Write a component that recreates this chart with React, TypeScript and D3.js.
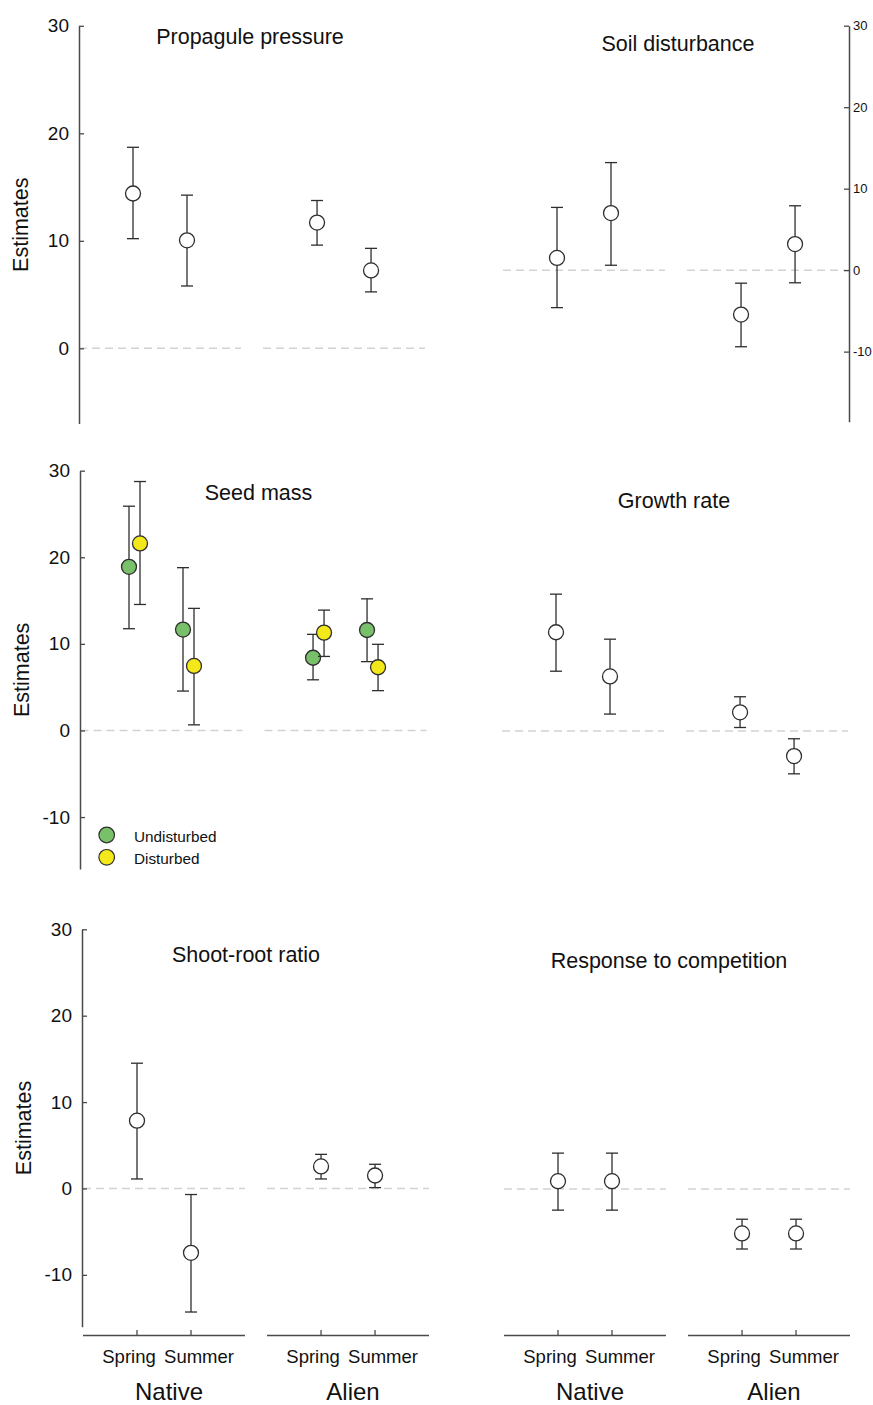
import React, { useRef, useEffect } from 'react';
import * as d3 from 'd3';

const groups = ['Native', 'Alien'];
const seasons = ['Spring', 'Summer'];

// [estimate, lower, upper] in order Native-Spring, Native-Summer, Alien-Spring, Alien-Summer
const propagulePressure = [[14.4, 10.2, 18.7], [10.05, 5.8, 14.25], [11.7, 9.6, 13.75], [7.25, 5.25, 9.3]];
const soilDisturbance = [[1.5, -4.6, 7.7], [7.0, 0.6, 13.2], [-5.45, -9.4, -1.6], [3.2, -1.55, 7.9]];
const seedMassUndisturbed = [[18.9, 11.75, 25.9], [11.65, 4.55, 18.8], [8.4, 5.85, 11.1], [11.6, 7.95, 15.2]];
const seedMassDisturbed = [[21.6, 14.55, 28.75], [7.45, 0.65, 14.1], [11.3, 8.55, 13.9], [7.3, 4.6, 9.95]];
const growthRate = [[11.4, 6.9, 15.8], [6.3, 1.95, 10.6], [2.15, 0.4, 3.95], [-2.9, -4.95, -0.9]];
const shootRootRatio = [[7.85, 1.1, 14.5], [-7.45, -14.3, -0.7], [2.55, 1.1, 3.95], [1.5, 0.1, 2.8]];
const responseToCompetition = [[0.9, -2.45, 4.15], [0.9, -2.45, 4.15], [-5.15, -6.95, -3.5], [-5.15, -6.95, -3.5]];

const legendLabels = ['Undisturbed', 'Disturbed'];
const seriesColors = ['#78c06a', '#f2e81a'];
const ticksFull = [-10, 0, 10, 20, 30];
const ticksTop = [0, 10, 20, 30];

const FONT = "'Liberation Sans', Arial, sans-serif";

const panels = [
  { title: 'Propagule pressure', series: [propagulePressure], yDomain: [-7, 30], yRange: [423.6, 25.8],
    x0: 79, axis: 'left', axisX: 79, ticks: ticksTop, titleX: 250, titleY: 44, xAxis: false },
  { title: 'Soil disturbance', series: [soilDisturbance], yDomain: [-18.6, 30], yRange: [421.7, 25.7],
    x0: 503, axis: 'right', axisX: 849, ticks: ticksFull, titleX: 678, titleY: 51, xAxis: false },
  { title: 'Seed mass', series: [seedMassUndisturbed, seedMassDisturbed], yDomain: [-16, 30], yRange: [869, 470.7],
    x0: 80.5, axis: 'left', axisX: 80, ticks: ticksFull, titleX: 258.5, titleY: 500, xAxis: false, legend: true },
  { title: 'Growth rate', series: [growthRate], yDomain: [-16, 30], yRange: [869.5, 471.2],
    x0: 502, axis: 'none', axisX: 0, ticks: ticksFull, titleX: 674, titleY: 508, xAxis: false },
  { title: 'Shoot-root ratio', series: [shootRootRatio], yDomain: [-16, 30], yRange: [1326.7, 929.3],
    x0: 83, axis: 'left', axisX: 82, ticks: ticksFull, titleX: 246, titleY: 962, xAxis: true },
  { title: 'Response to competition', series: [responseToCompetition], yDomain: [-16, 30], yRange: [1327.2, 929.8],
    x0: 504, axis: 'none', axisX: 0, ticks: ticksFull, titleX: 669, titleY: 968, xAxis: true },
];

const App = () => {
  const ref = useRef<SVGSVGElement>(null);

  useEffect(() => {
    const svg = d3.select(ref.current);
    svg.selectAll('*').remove();

    svg.append('rect').attr('width', 873).attr('height', 1405).attr('fill', '#fff');

    panels.forEach((p: any) => {
      const g = svg.append('g');
      const y = d3.scaleLinear().domain(p.yDomain).range(p.yRange);
      const band = d3.scaleBand().domain(groups).range([p.x0, p.x0 + 346]).paddingInner(0.12);
      const season = d3.scalePoint().domain(seasons).range([54, 108]);
      const xAt = (i: number) => (band(groups[Math.floor(i / 2)]) as number) + (season(seasons[i % 2]) as number);

      // zero reference lines
      groups.forEach(grp => {
        g.append('line')
          .attr('x1', band(grp) as number).attr('x2', (band(grp) as number) + band.bandwidth())
          .attr('y1', y(0)).attr('y2', y(0))
          .attr('stroke', '#d2d2d2').attr('stroke-width', 1.5).attr('stroke-dasharray', '8,5');
      });

      // y axis
      if (p.axis !== 'none') {
        const right = p.axis === 'right';
        const axis = (right ? d3.axisRight(y) : d3.axisLeft(y))
          .tickValues(p.ticks).tickFormat((d: any) => String(d))
          .tickSizeInner(-5).tickSizeOuter(0).tickPadding(right ? 4 : 10);
        const ag = g.append('g').attr('transform', `translate(${p.axisX},0)`).call(axis as any);
        ag.select('.domain').attr('stroke', '#4a4a4a').attr('stroke-width', 1.5);
        ag.selectAll('.tick line').attr('stroke', '#4a4a4a').attr('stroke-width', 1.3);
        ag.selectAll('.tick text')
          .attr('font-family', FONT).attr('font-size', right ? 13 : 19).attr('fill', '#111');
        ag.attr('font-family', null).attr('font-size', null);

        if (!right) {
          const mid = (p.yRange[0] + p.yRange[1]) / 2;
          g.append('text')
            .attr('transform', `translate(${p.axisX - 51},${mid}) rotate(-90)`)
            .attr('text-anchor', 'middle')
            .attr('font-family', FONT).attr('font-size', 21.5).attr('fill', '#111')
            .text('Estimates');
        }
      }

      // title
      g.append('text')
        .attr('x', p.titleX).attr('y', p.titleY)
        .attr('text-anchor', 'middle')
        .attr('font-family', FONT).attr('font-size', 21.5).attr('fill', '#111')
        .text(p.title);

      // error bars and points
      const offsets = p.series.length > 1 ? [-5.5, 5.5] : [0];
      const pts: any[] = [];
      p.series.forEach((s: number[][], si: number) => {
        s.forEach((d, i) => pts.push({ d, i, si }));
      });
      pts.sort((a, b) => a.i - b.i || a.si - b.si);
      pts.forEach(({ d, i, si }) => {
        const cx = xAt(i) + offsets[si];
        const [est, lo, hi] = d;
        g.append('line').attr('x1', cx).attr('x2', cx).attr('y1', y(lo)).attr('y2', y(hi))
          .attr('stroke', '#2e2e2e').attr('stroke-width', 1.3);
        [lo, hi].forEach(v => {
          g.append('line').attr('x1', cx - 6).attr('x2', cx + 6).attr('y1', y(v)).attr('y2', y(v))
            .attr('stroke', '#2e2e2e').attr('stroke-width', 1.3);
        });
        g.append('circle').attr('cx', cx).attr('cy', y(est)).attr('r', 7.5)
          .attr('fill', p.series.length > 1 ? seriesColors[si] : '#fff')
          .attr('stroke', '#2e2e2e').attr('stroke-width', 1.3);
      });

      // legend
      if (p.legend) {
        legendLabels.forEach((lab, k) => {
          const ly = 835 + k * 22.3;
          g.append('circle').attr('cx', 106.7).attr('cy', ly).attr('r', 7.8)
            .attr('fill', seriesColors[k]).attr('stroke', '#2e2e2e').attr('stroke-width', 1.2);
          g.append('text').attr('x', 134).attr('y', ly + 6.5)
            .attr('font-family', FONT).attr('font-size', 15.3).attr('fill', '#111')
            .text(lab);
        });
      }

      // x axis for bottom row
      if (p.xAxis) {
        const axY = 1335.5;
        groups.forEach(grp => {
          const b = band(grp) as number;
          g.append('line').attr('x1', b).attr('x2', b + band.bandwidth()).attr('y1', axY).attr('y2', axY)
            .attr('stroke', '#4a4a4a').attr('stroke-width', 1.5);
          seasons.forEach((s, si) => {
            const tx = b + (season(s) as number);
            g.append('line').attr('x1', tx).attr('x2', tx).attr('y1', axY).attr('y2', axY - 5.5)
              .attr('stroke', '#4a4a4a').attr('stroke-width', 1.3);
            g.append('text').attr('x', tx + (si === 0 ? -8 : 8)).attr('y', 1363)
              .attr('text-anchor', 'middle')
              .attr('font-family', FONT).attr('font-size', 18.5).attr('fill', '#111')
              .text(s);
          });
          g.append('text').attr('x', b + band.bandwidth() / 2 + 5).attr('y', 1399.5)
            .attr('text-anchor', 'middle')
            .attr('font-family', FONT).attr('font-size', 24).attr('fill', '#111')
            .text(grp);
        });
      }
    });
  }, []);

  return (
    <svg
      ref={ref}
      width={873}
      height={1405}
      style={{ position: 'absolute', left: 0, top: 0 }}
    />
  );
};

export default App;
